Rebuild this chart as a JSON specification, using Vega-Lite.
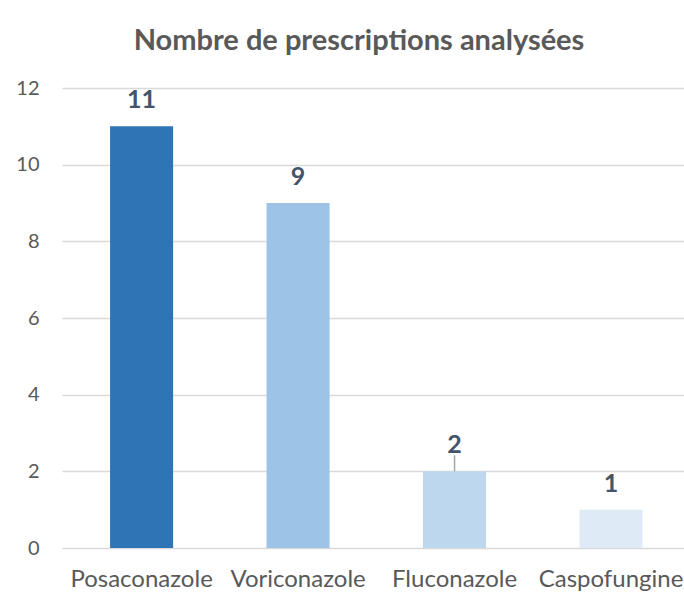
{
  "$schema": "https://vega.github.io/schema/vega-lite/v6.json",
  "autosize": "none",
  "width": 622,
  "height": 460,
  "padding": {"left": 62, "top": 88, "right": 0, "bottom": 60},
  "background": "white",
  "title": {
    "text": "Nombre de prescriptions analysées",
    "font": "Lato",
    "fontSize": 29,
    "fontWeight": "bold",
    "color": "#595959",
    "anchor": "middle",
    "dx": -14,
    "offset": 22
  },
  "data": {
    "values": [
      {"medicament": "Posaconazole", "n": 11},
      {"medicament": "Voriconazole", "n": 9},
      {"medicament": "Fluconazole", "n": 2},
      {"medicament": "Caspofungine", "n": 1}
    ]
  },
  "encoding": {
    "x": {
      "field": "medicament",
      "type": "nominal",
      "sort": null,
      "scale": {"paddingInner": 0.597, "paddingOuter": 0.286, "align": 0.537},
      "axis": {
        "title": null,
        "labelAngle": 0,
        "domain": false,
        "ticks": false,
        "labelFont": "Lato",
        "labelFontSize": 24,
        "labelColor": "#595959",
        "labelPadding": 19
      }
    },
    "y": {
      "field": "n",
      "type": "quantitative",
      "scale": {"domain": [0, 12]},
      "axis": {
        "title": null,
        "values": [0, 2, 4, 6, 8, 10, 12],
        "domain": false,
        "ticks": false,
        "labelFont": "Lato",
        "labelFontSize": 20,
        "labelColor": "#595959",
        "labelPadding": 23,
        "gridColor": "#D9D9D9",
        "gridWidth": 1.5
      }
    }
  },
  "layer": [
    {
      "mark": {"type": "bar"},
      "encoding": {
        "color": {
          "field": "medicament",
          "type": "nominal",
          "sort": null,
          "scale": {"range": ["#2E75B6", "#9DC3E6", "#BDD7EE", "#DEEBF7"]},
          "legend": null
        }
      }
    },
    {
      "transform": [{"filter": "datum.medicament === 'Fluconazole'"}],
      "mark": {"type": "rule", "color": "#A6A6A6", "strokeWidth": 1.5},
      "encoding": {"y2": {"datum": 2.42}}
    },
    {
      "mark": {
        "type": "text",
        "baseline": "bottom",
        "dy": -13,
        "font": "Lato",
        "fontSize": 25,
        "fontWeight": "bold",
        "color": "#44546A"
      },
      "encoding": {"text": {"field": "n", "type": "quantitative"}}
    }
  ],
  "config": {"view": {"stroke": null}}
}
